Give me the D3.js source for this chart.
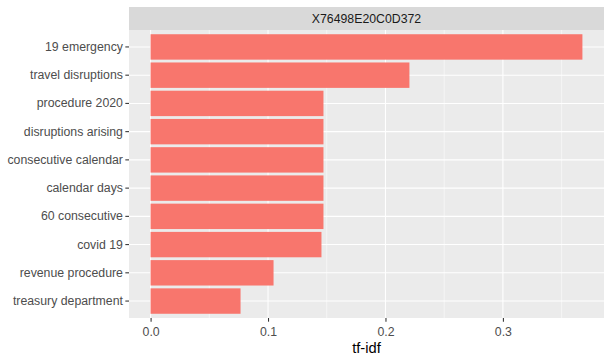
<html>
<head>
<script src="https://cdn.jsdelivr.net/npm/d3@7"></script>
<style>
  body { margin: 0; background: #fff; }
  svg { display: block; font-family: "Liberation Sans", Arial, sans-serif; }
</style>
</head>
<body>
<div id="container"></div>
<script>
// terms, top to bottom
var terms = ["19 emergency", "travel disruptions", "procedure 2020", "disruptions arising",
             "consecutive calendar", "calendar days", "60 consecutive", "covid 19",
             "revenue procedure", "treasury department"];
var tfidf = [0.3677, 0.2204, 0.1472, 0.1472, 0.1472, 0.1472, 0.1472, 0.1455, 0.1047, 0.0766];
var xTicks = [0, 0.1, 0.2, 0.3];
var xMinor = [0.05, 0.15, 0.25, 0.35];
var facetLabel = "X76498E20C0D372";

var W = 612, H = 363;
var panel = { left: 129, right: 604, top: 30, bottom: 318 };

var svg = d3.select("#container").append("svg")
  .attr("width", W).attr("height", H);

var maxV = d3.max(tfidf);
var x = d3.scaleLinear()
  .domain([-0.05 * maxV, maxV * 1.05])
  .range([panel.left, panel.right]);

var y = d3.scaleBand()
  .domain(terms)
  .range([panel.top, panel.bottom])
  .paddingInner(0.1)
  .paddingOuter(0.15);

// strip
svg.append("rect")
  .attr("x", panel.left).attr("y", 7)
  .attr("width", panel.right - panel.left).attr("height", panel.top - 7)
  .attr("fill", "#D9D9D9");
svg.append("text")
  .attr("x", (panel.left + panel.right) / 2).attr("y", 19)
  .attr("dy", "0.35em")
  .attr("text-anchor", "middle")
  .attr("font-size", "12.3px")
  .attr("fill", "#1A1A1A")
  .text(facetLabel);

// panel
svg.append("rect")
  .attr("x", panel.left).attr("y", panel.top)
  .attr("width", panel.right - panel.left).attr("height", panel.bottom - panel.top)
  .attr("fill", "#EBEBEB");

var grid = svg.append("g");
grid.selectAll("line.minor").data(xMinor).enter().append("line")
  .attr("x1", function(d){ return x(d); }).attr("x2", function(d){ return x(d); })
  .attr("y1", panel.top).attr("y2", panel.bottom)
  .attr("stroke", "#fff").attr("stroke-width", 0.53);
grid.selectAll("line.majx").data(xTicks).enter().append("line")
  .attr("x1", function(d){ return x(d); }).attr("x2", function(d){ return x(d); })
  .attr("y1", panel.top).attr("y2", panel.bottom)
  .attr("stroke", "#fff").attr("stroke-width", 1.07);
grid.selectAll("line.majy").data(terms).enter().append("line")
  .attr("x1", panel.left).attr("x2", panel.right)
  .attr("y1", function(d){ return y(d) + y.bandwidth() / 2; })
  .attr("y2", function(d){ return y(d) + y.bandwidth() / 2; })
  .attr("stroke", "#fff").attr("stroke-width", 1.07);

// bars
svg.append("g").selectAll("rect").data(terms).enter().append("rect")
  .attr("x", x(0))
  .attr("y", function(d){ return y(d); })
  .attr("width", function(d, i){ return x(tfidf[i]) - x(0); })
  .attr("height", y.bandwidth())
  .attr("fill", "#F8766D");

// axes
var xAxis = d3.axisBottom(x).tickValues(xTicks).tickFormat(d3.format(".1f"))
  .tickSize(3.67).tickPadding(5.5);
var yAxis = d3.axisLeft(y).tickSize(3.67).tickPadding(2.4);

var gx = svg.append("g")
  .attr("transform", "translate(0," + panel.bottom + ")")
  .call(xAxis);
var gy = svg.append("g")
  .attr("transform", "translate(" + panel.left + ",0)")
  .call(yAxis);

[gx, gy].forEach(function(g){
  g.select(".domain").remove();
  g.selectAll(".tick line").attr("stroke", "#333333").attr("stroke-width", 1.07);
  g.selectAll(".tick text")
    .attr("fill", "#4D4D4D")
    .attr("font-size", "12.3px")
    .attr("font-family", "Liberation Sans, Arial, sans-serif");
});

svg.append("text")
  .attr("x", (panel.left + panel.right) / 2).attr("y", 348)
  .attr("dy", "0.35em")
  .attr("text-anchor", "middle")
  .attr("font-size", "14.7px")
  .attr("fill", "#000")
  .text("tf-idf");
</script>
</body>
</html>
